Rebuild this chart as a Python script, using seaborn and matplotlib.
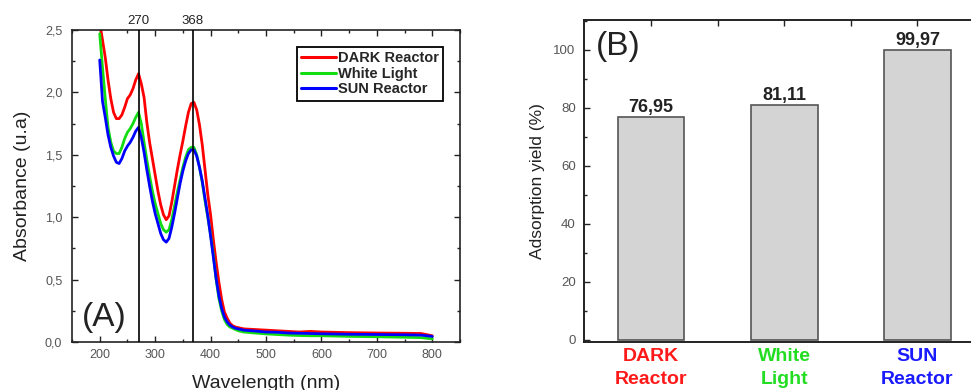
import matplotlib
matplotlib.use("Agg")
import matplotlib.pyplot as plt
from matplotlib.ticker import MultipleLocator, FixedLocator, FuncFormatter
import numpy as np
import pandas as pd
import seaborn as sns

# ---------------- data ----------------
wavelength = [200, 205, 210, 215, 220, 225, 230, 235, 240, 245, 250, 255, 260, 265,
              270, 275, 280, 285, 290, 295, 300, 305, 310, 315, 320, 325, 330, 335,
              340, 345, 350, 355, 360, 365, 370, 375, 380, 385, 390, 395, 400, 405,
              410, 415, 420, 425, 430, 435, 440, 445, 450, 455, 460, 480, 500, 520,
              540, 560, 580, 600, 650, 700, 750, 780, 800]

dark = [2.56, 2.42, 2.28, 2.10, 1.95, 1.84, 1.79, 1.79, 1.82, 1.88, 1.95, 1.98, 2.03, 2.10,
        2.15, 2.07, 1.96, 1.76, 1.60, 1.47, 1.34, 1.21, 1.10, 1.02, 0.98, 1.01, 1.12, 1.25,
        1.38, 1.50, 1.61, 1.73, 1.84, 1.91, 1.92, 1.86, 1.74, 1.58, 1.38, 1.18, 1.02, 0.82,
        0.64, 0.48, 0.34, 0.24, 0.19, 0.15, 0.13, 0.12, 0.115, 0.11, 0.105, 0.10, 0.095, 0.09,
        0.085, 0.08, 0.085, 0.08, 0.075, 0.072, 0.07, 0.068, 0.05]

white = [2.47, 2.20, 1.95, 1.72, 1.60, 1.53, 1.51, 1.51, 1.56, 1.63, 1.68, 1.71, 1.75, 1.80,
         1.84, 1.75, 1.60, 1.46, 1.33, 1.21, 1.11, 1.03, 0.95, 0.90, 0.88, 0.90, 0.98, 1.09,
         1.20, 1.30, 1.40, 1.48, 1.54, 1.56, 1.56, 1.50, 1.40, 1.28, 1.13, 1.00, 0.86, 0.70,
         0.50, 0.35, 0.25, 0.18, 0.14, 0.12, 0.11, 0.10, 0.09, 0.085, 0.08, 0.072, 0.065, 0.06,
         0.055, 0.052, 0.05, 0.05, 0.045, 0.042, 0.038, 0.035, 0.025]

sun = [2.26, 1.93, 1.80, 1.66, 1.56, 1.49, 1.44, 1.43, 1.47, 1.53, 1.57, 1.60, 1.64, 1.69,
       1.72, 1.64, 1.52, 1.38, 1.25, 1.13, 1.03, 0.95, 0.87, 0.82, 0.80, 0.83, 0.92, 1.03,
       1.15, 1.27, 1.37, 1.45, 1.51, 1.54, 1.54, 1.49, 1.40, 1.29, 1.15, 1.01, 0.85, 0.68,
       0.51, 0.37, 0.27, 0.20, 0.16, 0.135, 0.12, 0.11, 0.105, 0.10, 0.095, 0.088, 0.08, 0.078,
       0.072, 0.07, 0.068, 0.066, 0.062, 0.06, 0.058, 0.055, 0.045]

series_names = ["DARK Reactor", "White Light", "SUN Reactor"]
series_colors = ["#ff0000", "#11dd11", "#0000ff"]
peak_lines = [270, 368]

bar_categories = ["DARK\nReactor", "White\nLight", "SUN\nReactor"]
bar_values = [76.95, 81.11, 99.97]
bar_labels = ["76,95", "81,11", "99,97"]
bar_label_colors = ["#ff1a1a", "#22dd22", "#1a1aff"]

# ---------------- style ----------------
sns.set_theme(style="ticks")
plt.rcParams['font.family'] = ['Liberation Sans', 'DejaVu Sans']
plt.rcParams['axes.unicode_minus'] = False

fig = plt.figure(figsize=(9.71, 3.9), dpi=100)
ax1 = fig.add_axes([72/971, 48/390, 388/971, 312/390])
ax2 = fig.add_axes([584/971, 48/390, 400/971, 322/390])

comma = FuncFormatter(lambda v, p: f"{v:.1f}".replace(".", ","))

# ---------------- panel A ----------------
df = pd.concat([
    pd.DataFrame({"Wavelength": wavelength, "Absorbance": vals, "Sample": name})
    for name, vals in zip(series_names, [dark, white, sun])
])
sns.lineplot(data=df, x="Wavelength", y="Absorbance", hue="Sample",
             palette=dict(zip(series_names, series_colors)), estimator=None,
             linewidth=2.0, ax=ax1)
for x in peak_lines:
    ax1.axvline(x, color="black", lw=1.2, zorder=5)

ax1.set_xlim(150, 850)
ax1.set_ylim(0, 2.5)
ax1.xaxis.set_major_locator(MultipleLocator(100))
ax1.xaxis.set_minor_locator(MultipleLocator(50))
ax1.yaxis.set_major_locator(MultipleLocator(0.5))
ax1.yaxis.set_minor_locator(MultipleLocator(0.25))
ax1.yaxis.set_major_formatter(comma)
ax1.tick_params(which="both", direction="in", top=True, right=True, colors="#222",
                labelcolor="#555", labelsize=9, width=1.0)
ax1.tick_params(which="major", length=4)
ax1.tick_params(which="minor", length=2.5)
ax1.tick_params(axis="y", pad=7)
ax1.tick_params(axis="x", pad=5)
for s in ax1.spines.values():
    s.set_linewidth(1.2)
    s.set_color("#222")
ax1.set_xlabel("Wavelength (nm)", fontsize=14, color="#222", labelpad=10)
ax1.set_ylabel("Absorbance (u.a)", fontsize=14, color="#222", labelpad=10)

top = ax1.secondary_xaxis("top")
top.xaxis.set_major_locator(FixedLocator(peak_lines))
top.tick_params(length=0, labelsize=9.5, pad=2, labelcolor="#222")
top.spines["top"].set_visible(False)

handles, labels = ax1.get_legend_handles_labels()
leg = ax1.legend(handles, labels, loc="upper right", bbox_to_anchor=(0.956, 0.9455),
                 frameon=True, fancybox=False, edgecolor="black", framealpha=1,
                 prop={"weight": "bold", "size": 10.5}, handlelength=2.4,
                 handletextpad=0.1, labelspacing=0.1, borderpad=0.3, borderaxespad=0)
leg.get_frame().set_linewidth(1.3)
for line in leg.get_lines():
    line.set_linewidth(2.2)

ax1.text(0.025, 0.03, "(A)", transform=ax1.transAxes, fontsize=24, color="#222",
         ha="left", va="bottom")

# ---------------- panel B ----------------
bdf = pd.DataFrame({"Sample": bar_categories, "Yield": bar_values})
sns.barplot(data=bdf, x="Sample", y="Yield", color="#d4d4d4", saturation=1,
            width=0.5, edgecolor="#555555", linewidth=1.2, ax=ax2)
ax2.set_xlim(-0.504, 2.5)
ax2.set_ylim(-0.69, 110.34)
ax2.yaxis.set_major_locator(MultipleLocator(20))
ax2.yaxis.set_minor_locator(MultipleLocator(10))
ax2.xaxis.set_minor_locator(FixedLocator([0.5, 1.5]))
ax2.tick_params(axis="y", which="both", direction="in", left=True, right=False,
                colors="#222", labelcolor="#555", labelsize=9.5, pad=6, width=1.0)
ax2.tick_params(axis="y", which="major", length=4)
ax2.tick_params(axis="y", which="minor", length=2.5)
ax2.tick_params(axis="x", which="both", direction="in", top=True, bottom=False,
                width=1.0, colors="#222", pad=4)
ax2.tick_params(axis="x", which="major", length=4)
ax2.tick_params(axis="x", which="minor", length=4)
for lbl, c in zip(ax2.get_xticklabels(), bar_label_colors):
    lbl.set_color(c)
    lbl.set_fontweight("bold")
    lbl.set_fontsize(14)
    lbl.set_linespacing(1.5)
for s in ax2.spines.values():
    s.set_linewidth(1.4)
    s.set_color("#222")
ax2.set_xlabel("")
ax2.set_ylabel("Adsorption yield (%)", fontsize=12.5, color="#222", labelpad=6)

for i, (v, t) in enumerate(zip(bar_values, bar_labels)):
    ax2.text(i, v + 0.4, t, ha="center", va="bottom", fontsize=13,
             fontweight="bold", color="#222")

ax2.text(0.03, 0.87, "(B)", transform=ax2.transAxes, fontsize=24, color="#222",
         ha="left", va="bottom")

fig.savefig("out.png", dpi=100)
